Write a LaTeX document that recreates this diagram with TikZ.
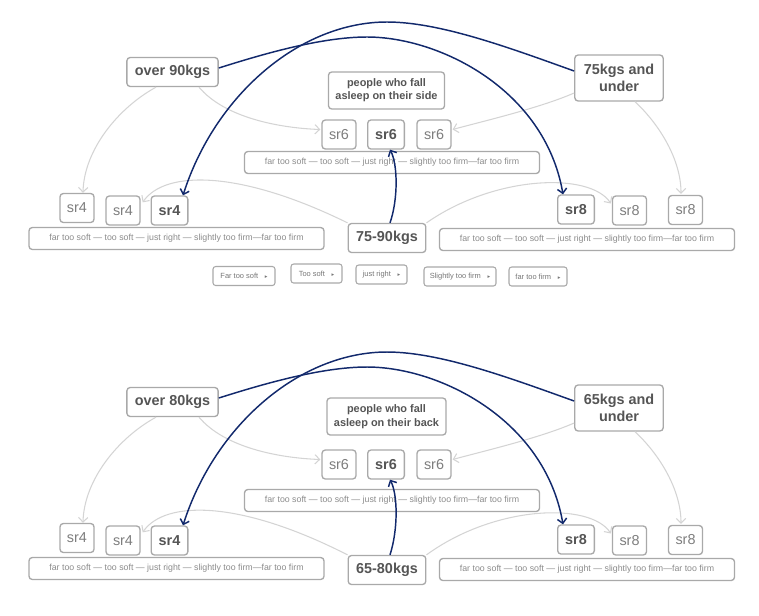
\documentclass[tikz,border=0pt]{standalone}
\usepackage{fontspec}
\setmainfont{Liberation Sans}
\newfontfamily\djv{DejaVu Sans}
\usetikzlibrary{arrows.meta,calc}
\definecolor{bordergray}{HTML}{A9A9A9}
\definecolor{darktext}{HTML}{555555}
\definecolor{lighttext}{HTML}{7E7E7E}
\definecolor{bartext}{HTML}{8C8C8C}
\definecolor{droptext}{HTML}{777777}
\definecolor{arrowgray}{HTML}{D4D4D4}
\definecolor{navy}{HTML}{12296C}
\newcommand\dropglyph{{\djv\fontsize{4}{4}\selectfont ▸}}
\newcommand\scaletext{far too soft — too soft — just right — slightly too firm—far too firm}
\newcommand\mymidlabel{}
\tikzset{
 box/.style={draw=bordergray, line width=1pt, rounded corners=2.5pt, fill=white, inner sep=0pt},
 heavy/.style={box, font=\fontsize{10.8}{13}\selectfont\bfseries, text=darktext, inner xsep=6pt, minimum height=21.75pt},
 lightbox/.style={heavy, align=center, minimum height=34.5pt, inner xsep=6.75pt},
 sleep/.style={box, font=\fontsize{8.2}{10}\selectfont\bfseries, text=darktext, align=center, inner xsep=5.25pt, minimum height=27.75pt},
 srbox/.style={box, font=\fontsize{10.8}{13}\selectfont, text=lighttext, minimum width=25.5pt, minimum height=21.75pt},
 srbold/.style={srbox, font=\fontsize{10.8}{13}\selectfont\bfseries, text=darktext, minimum width=27.5pt},
 scalebar/.style={box, font=\fontsize{6.6}{8}\selectfont, text=bartext, minimum width=221.25pt, minimum height=16.5pt},
 drop/.style={box, line width=0.8pt, rounded corners=2pt, font=\fontsize{5.6}{7}\selectfont, text=droptext, minimum height=14.25pt},
 garrow/.style={draw=arrowgray, line width=0.8pt, -{Straight Barb[length=3.5pt,width=7pt]}},
 narrow/.style={draw=navy, line width=1.1pt, -{Straight Barb[length=3.5pt,width=7pt]}},
}
% #1 prefix, #2 dy, #3 heavy, #4 light, #5 sleep, #6 sleep y, #7 mid bar y, #8 mid node y
\newcommand\drawhalf[8]{%
 \node[heavy] (#1h) at (172.5,{72+#2}) {#3};
 \node[lightbox] (#1l) at (619,{78+#2}) {#4};
 \node[sleep] (#1s) at (386.5,{#6+#2}) {#5};
 \node[srbox] (#1sixa) at (339,{134.5+#2}) {sr6};
 \node[srbold] (#1sixb) at (386,{134.5+#2}) {sr6};
 \node[srbox] (#1sixc) at (434,{134.5+#2}) {sr6};
 \node[scalebar] (#1mbar) at (392,{#7+#2}) {\scaletext};
 \node[heavy] (#1m) at (387,{#8+#2}) {\mymidlabel};
 \node[srbox] (#1fa) at (77,{208+#2}) {sr4};
 \node[srbox] (#1fb) at (123,{210.5+#2}) {sr4};
 \node[srbold] (#1fc) at (169.5,{210.5+#2}) {sr4};
 \node[scalebar] (#1lbar) at (176.5,{238.5+#2}) {\scaletext};
 \node[srbold] (#1ea) at (576,{209.5+#2}) {sr8};
 \node[srbox] (#1eb) at (629.5,{210.5+#2}) {sr8};
 \node[srbox] (#1ec) at (685.5,{210+#2}) {sr8};
 \node[scalebar] (#1rbar) at (587,{239.5+#2}) {\scaletext};
}
\newcommand\drawlinks[2]{%
 \draw[garrow] ($(#1h.south)+(-16.5,0)$) .. controls (118,{108+#2}) and (84,{150+#2}) .. ($(#1fa.north)+(6,0)$);
 \draw[garrow] ($(#1h.south)+(26.5,0)$) .. controls (225,{118+#2}) and (280,{128+#2}) .. ($(#1sixa.west)+(-1,-5)$);
 \draw[garrow] ($(#1l.west)+(0,15)$) .. controls (540,{108+#2}) and (480,{122+#2}) .. ($(#1sixc.east)+(1,-5)$);
 \draw[garrow] ($(#1l.south)+(16,0)$) .. controls (660,{125+#2}) and (681,{160+#2}) .. ($(#1ec.north)+(-4.5,-1)$);
 \draw[garrow] (#1m.north west) .. controls (240,{170+#2}) and (165,{170+#2}) .. ($(#1fb.north east)+(2,7)$);
 \draw[garrow] (#1m.north east) .. controls (495,{175+#2}) and (590,{172+#2}) .. ($(#1eb.west)+(-1,-7)$);
 \draw[narrow] ($(#1h.east)+(0,-4)$) .. controls (260,{55+#2}) and (320,{37+#2}) .. (367,{37+#2}) .. controls (440,{37+#2}) and (545,{90+#2}) .. ($(#1ea.north)+(-13,0)$);
 \draw[narrow] ($(#1l.west)+(0,-7)$) .. controls (510,{48+#2}) and (440,{22+#2}) .. (387,{22+#2}) .. controls (300,{22+#2}) and (215,{95+#2}) .. ($(#1fc.north)+(13.5,0)$);
 \draw[narrow] ($(#1m.north)+(3,0)$) .. controls (398,{200+#2}) and (398,{165+#2}) .. ($(#1sixb.south)+(4,0)$);
}
\begin{document}
\begin{tikzpicture}[x=0.75pt,y=-0.75pt]
\useasboundingbox (0,0) rectangle (759,615);
\renewcommand\mymidlabel{75-90kgs}
\drawhalf{t}{0}{over 90kgs}{75kgs and\\under}{people who fall\\asleep on their side}{90.5}{162.5}{238}
\drawlinks{t}{0}
\renewcommand\mymidlabel{65-80kgs}
\drawhalf{b}{330}{over 80kgs}{65kgs and\\under}{people who fall\\asleep on their back}{86.5}{170.5}{240}
\drawlinks{b}{330}
\node[drop, minimum width=46.5pt] (d1) at (244,276) {Far too soft\hspace{5pt}\dropglyph};
\node[drop, minimum width=38.25pt] (d2) at (316.5,273.5) {Too soft\hspace{5pt}\dropglyph};
\node[drop, minimum width=38.25pt] (d3) at (381.5,274.5) {just right\hspace{5pt}\dropglyph};
\node[drop, minimum width=54pt] (d4) at (460,276.5) {Slightly too firm\hspace{5pt}\dropglyph};
\node[drop, minimum width=43.5pt] (d5) at (538,276.5) {far too firm\hspace{5pt}\dropglyph};
\end{tikzpicture}
\end{document}
